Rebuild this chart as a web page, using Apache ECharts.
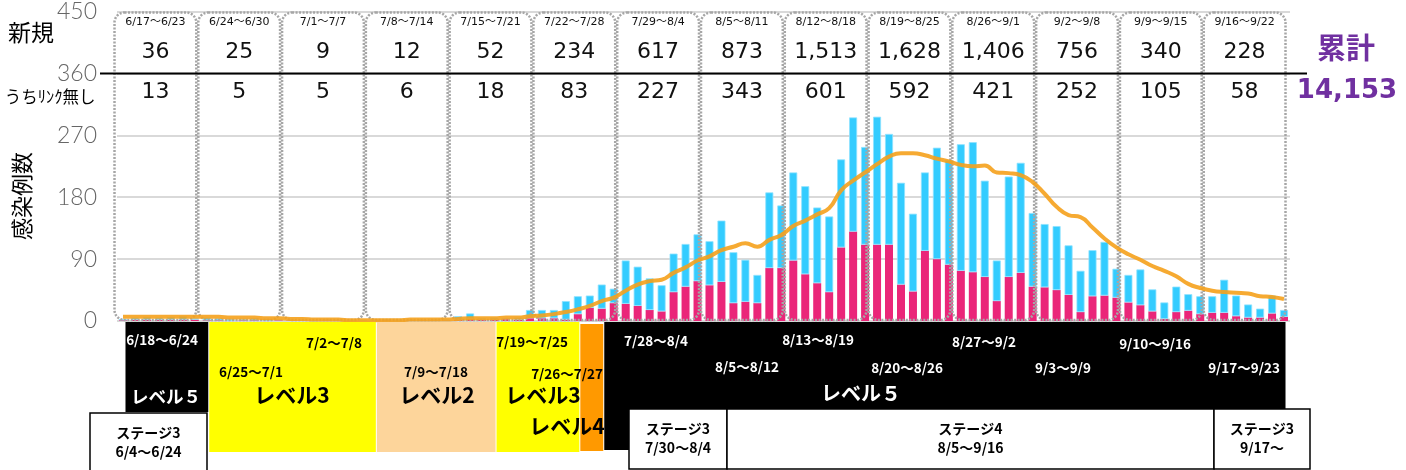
<!DOCTYPE html>
<html>
<head>
<meta charset="utf-8">
<script src="https://cdn.jsdelivr.net/npm/echarts@6/dist/echarts.min.js"></script>
<style>
  html, body { margin: 0; padding: 0; background: #fff; }
  #chart { width: 1406px; height: 470px; }
</style>
</head>
<body>
<div id="chart"></div>
<script>
// 日付 6/17 〜 9/22
var days = [];
for (var i = 0; i < 98; i++) {
  var d = new Date(2020, 5, 17 + i);
  days.push((d.getMonth() + 1) + '/' + d.getDate());
}

// うちリンク無し（日別）
var noLink = [
  1, 2, 2, 2, 2, 2, 2,
  1, 1, 0, 1, 1, 0, 1,
  1, 1, 0, 1, 1, 0, 1,
  1, 1, 0, 1, 1, 1, 1,
  2, 3, 2, 2, 3, 2, 4,
  4, 4, 2, 10, 19, 18, 26,
  25, 22, 16, 14, 42, 50, 58,
  52, 57, 26, 28, 26, 77, 77,
  88, 68, 55, 42, 107, 130, 111,
  111, 111, 53, 43, 102, 90, 82,
  73, 71, 64, 29, 64, 70, 50,
  49, 45, 38, 13, 36, 37, 34,
  27, 23, 14, 3, 13, 15, 10,
  12, 12, 7, 5, 5, 11, 6
];
// リンクあり（日別）
var linked = [
  2, 3, 4, 3, 4, 5, 2,
  4, 3, 3, 2, 3, 3, 2,
  1, 0, 1, 1, 0, 1, 0,
  0, 1, 1, 1, 1, 1, 1,
  5, 8, 2, 3, 1, 3, 12,
  12, 12, 27, 26, 18, 35, 21,
  63, 57, 46, 38, 56, 62, 68,
  64, 89, 74, 61, 41, 110, 91,
  128, 128, 110, 110, 128, 166, 142,
  186, 161, 148, 113, 114, 162, 152,
  184, 189, 140, 59, 146, 160, 107,
  92, 93, 72, 60, 67, 78, 42,
  40, 52, 32, 24, 37, 24, 26,
  24, 48, 30, 19, 13, 26, 10
];
// 7日間平均
var avg7 = [
  6, 6, 6, 6, 6, 6, 6, 6, 6, 5, 5, 5, 4, 4,
  3, 3, 2, 2, 2, 1, 1, 1, 1, 1, 2, 2, 2, 2,
  3, 4, 4, 4, 5, 5, 7, 8, 10, 13, 17, 22, 29, 34,
  44, 53, 58, 60, 70, 78, 88, 94, 103, 108, 113, 108, 118, 125,
  138, 146, 155, 164, 190, 204, 216, 228, 239, 244, 244, 241, 236, 232,
  227, 225, 226, 216, 215, 212, 202, 185, 166, 154, 151, 136, 120, 107,
  97, 89, 80, 73, 65, 54, 48, 44, 42, 41, 40, 36, 35, 32
];

// 週別
var weekLabels = ['6/17～6/23', '6/24～6/30', '7/1～7/7', '7/8～7/14', '7/15～7/21', '7/22～7/28', '7/29～8/4',
  '8/5～8/11', '8/12～8/18', '8/19～8/25', '8/26～9/1', '9/2～9/8', '9/9～9/15', '9/16～9/22'];
var weekTotals = ['36', '25', '9', '12', '52', '234', '617', '873', '1,513', '1,628', '1,406', '756', '340', '228'];
var weekNoLink = ['13', '5', '5', '6', '18', '83', '227', '343', '601', '592', '421', '252', '105', '58'];
var cumulative = '14,153';

// 警戒レベル
var levelNames = ['レベル５', 'レベル3', 'レベル2', 'レベル3', 'レベル4', 'レベル５'];
var levelFrom = ['6/18', '6/25', '7/9', '7/19', '7/26', '7/28'];
var levelTo = ['6/24', '7/8', '7/18', '7/25', '7/27', '9/22'];

var chart = echarts.init(document.getElementById('chart'));

var numFont = '"DejaVu Sans", "Noto Sans CJK JP", sans-serif';
var jpFont = '"Noto Sans CJK JP", sans-serif';

chart.setOption({
  animation: false,
  grid: { left: 117, right: 116, top: 8, bottom: 149 },
  xAxis: {
    type: 'category',
    data: days,
    axisLine: { show: false },
    axisTick: { show: false },
    axisLabel: { show: false },
    splitLine: { show: false }
  },
  yAxis: {
    type: 'value',
    min: 0,
    max: 450,
    interval: 90,
    axisLine: { show: false },
    axisTick: { show: false },
    axisLabel: { color: '#666', fontSize: 23, fontFamily: 'Lato', fontWeight: 300, margin: 20 },
    splitLine: { lineStyle: { color: '#d9d9d9', width: 2 } }
  },
  series: [
    {
      name: 'リンク無し',
      type: 'bar',
      stack: 'a',
      barWidth: 8,
      data: noLink,
      itemStyle: { color: '#ea2679' },
      z: 2
    },
    {
      name: 'リンクあり',
      type: 'bar',
      stack: 'a',
      barWidth: 8,
      data: linked,
      itemStyle: { color: '#33ccff', borderColor: '#8fe2ff', borderWidth: 0.8 },
      z: 2
    },
    {
      type: 'custom',
      silent: true,
      z: 3,
      data: weekLabels.map(function (l, k) { return [k * 7, k]; }),
      renderItem: function (params, api) {
        var start = api.value(0);
        var k = api.value(1);
        var p0 = api.coord([start, 0]);
        var pTop = api.coord([start, 450]);
        var p360 = api.coord([start, 360]);
        var band = api.size([1, 0])[0];
        var x = p0[0] - band / 2 - 3.5;
        var w = band * 7;
        var cx = x + w / 2;
        function t(text, y, size) {
          return {
            type: 'text',
            style: {
              text: text, x: cx, y: y, fill: '#111',
              fontSize: size, fontFamily: numFont,
              textAlign: 'center', textVerticalAlign: 'middle',
              align: 'center', verticalAlign: 'middle'
            }
          };
        }
        return {
          type: 'group',
          children: [
            {
              type: 'rect',
              shape: { x: x + 1, y: pTop[1] + 1, width: w - 2, height: p0[1] - pTop[1] - 2, r: 10 },
              style: { fill: 'none', stroke: '#a6a6a6', lineWidth: 2.5, lineDash: [2, 1.5] }
            },
            t(weekLabels[k], pTop[1] + 11, 11),
            t(weekTotals[k], p360[1] - 21, 22),
            t(weekNoLink[k], p360[1] + 19, 22)
          ]
        };
      }
    },
    {
      name: '7日間平均',
      type: 'line',
      data: avg7,
      smooth: true,
      symbol: 'none',
      lineStyle: { color: '#f5a11c', width: 4, opacity: 0.9 },
      z: 5
    }
  ]
});

// 注記（表の罫線・ラベル・レベル帯）
function txt(text, x, y, size, color, weight, family, rot) {
  return {
    type: 'text', x: x, y: y, rotation: rot || 0, z: 120,
    style: {
      text: text, fill: color, fontSize: size, fontWeight: weight || 'normal',
      fontFamily: family || jpFont,
      textAlign: 'center', textVerticalAlign: 'middle',
      align: 'center', verticalAlign: 'middle'
    }
  };
}

var y360 = chart.convertToPixel({ yAxisIndex: 0 }, 360);
var g = [];
g.push({
  type: 'line', z: 110,
  shape: { x1: 100, y1: y360, x2: 1307, y2: y360 },
  style: { stroke: '#000', lineWidth: 2 }
});
g.push(txt('新規', 31, 32, 23, '#000'));
g.push(txt('うちﾘﾝｸ無し', 50, 97, 16.5, '#000'));
g.push(txt('感染例数', 22, 196, 22, '#000', 'normal', jpFont, Math.PI / 2));
g.push(txt('累計', 1346, 48, 29, '#7030a0', 'bold'));
g.push(txt(cumulative, 1347, 91, 26, '#7030a0', 'bold', numFont));

// レベル帯
var levelFill = ['#000', '#ffff00', '#fdd59b', '#ffff00', '#ff9900', '#000'];
var levelTop = [322, 322, 322, 322, 324, 322];
var levelBottom = [412, 452, 452, 452, 451, 450];
for (var j = 0; j < levelNames.length; j++) {
  var a = chart.convertToPixel({ xAxisIndex: 0 }, days[days.indexOf(levelFrom[j]) - 1]);
  var b = chart.convertToPixel({ xAxisIndex: 0 }, days[days.indexOf(levelTo[j])]);
  g.push({
    type: 'rect', z: 100,
    shape: { x: a + 2.5, y: levelTop[j], width: b - a - 1, height: levelBottom[j] - levelTop[j] },
    style: { fill: levelFill[j] }
  });
}

// レベル帯の文字
var W = '#fff', K = '#000';
g.push(txt('6/18～6/24', 162, 340, 13.5, W, 'bold'));
g.push(txt(levelNames[0], 166, 396, 17.5, W, 'bold'));
g.push(txt('7/2～7/8', 334, 343, 13.5, K, 'bold'));
g.push(txt('6/25～7/1', 251, 372, 13.5, K, 'bold'));
g.push(txt(levelNames[1], 292, 395, 21, K, 'bold'));
g.push(txt('7/9～7/18', 436, 372, 13.5, K, 'bold'));
g.push(txt(levelNames[2], 437, 395, 21, K, 'bold'));
g.push(txt('7/19～7/25', 532, 342, 13.5, K, 'bold'));
g.push(txt(levelNames[3], 543, 395, 21, K, 'bold'));
g.push(txt('7/26～7/27', 567, 374, 13.5, K, 'bold'));
g.push(txt(levelNames[4], 567, 426, 21, K, 'bold'));
g.push(txt('7/28～8/4', 656, 341, 13.5, W, 'bold'));
g.push(txt('8/13～8/19', 818, 340, 13.5, W, 'bold'));
g.push(txt('8/27～9/2', 984, 342, 13.5, W, 'bold'));
g.push(txt('9/10～9/16', 1155, 344, 13.5, W, 'bold'));
g.push(txt('8/5～8/12', 747, 367, 13.5, W, 'bold'));
g.push(txt('8/20～8/26', 907, 368, 13.5, W, 'bold'));
g.push(txt('9/3～9/9', 1063, 368, 13.5, W, 'bold'));
g.push(txt('9/17～9/23', 1244, 368, 13.5, W, 'bold'));
g.push(txt(levelNames[5], 861, 393, 20, W, 'bold'));

// ステージ
var stages = [
  { x: 90, w: 117, y: 413, h: 60, t1: 'ステージ3', t2: '6/4～6/24' },
  { x: 629, w: 98, y: 409, h: 60, t1: 'ステージ3', t2: '7/30～8/4' },
  { x: 727, w: 487, y: 409, h: 60, t1: 'ステージ4', t2: '8/5～9/16' },
  { x: 1214, w: 96, y: 409, h: 60, t1: 'ステージ3', t2: '9/17～' }
];
stages.forEach(function (s) {
  g.push({
    type: 'rect', z: 105,
    shape: { x: s.x, y: s.y, width: s.w, height: s.h },
    style: { fill: '#fff', stroke: '#000', lineWidth: 1.5 }
  });
  g.push(txt(s.t1, s.x + s.w / 2, s.y + 20, 14, K, 'bold'));
  g.push(txt(s.t2, s.x + s.w / 2, s.y + 39, 14, K, 'bold'));
});

chart.setOption({ graphic: g });
</script>
</body>
</html>
